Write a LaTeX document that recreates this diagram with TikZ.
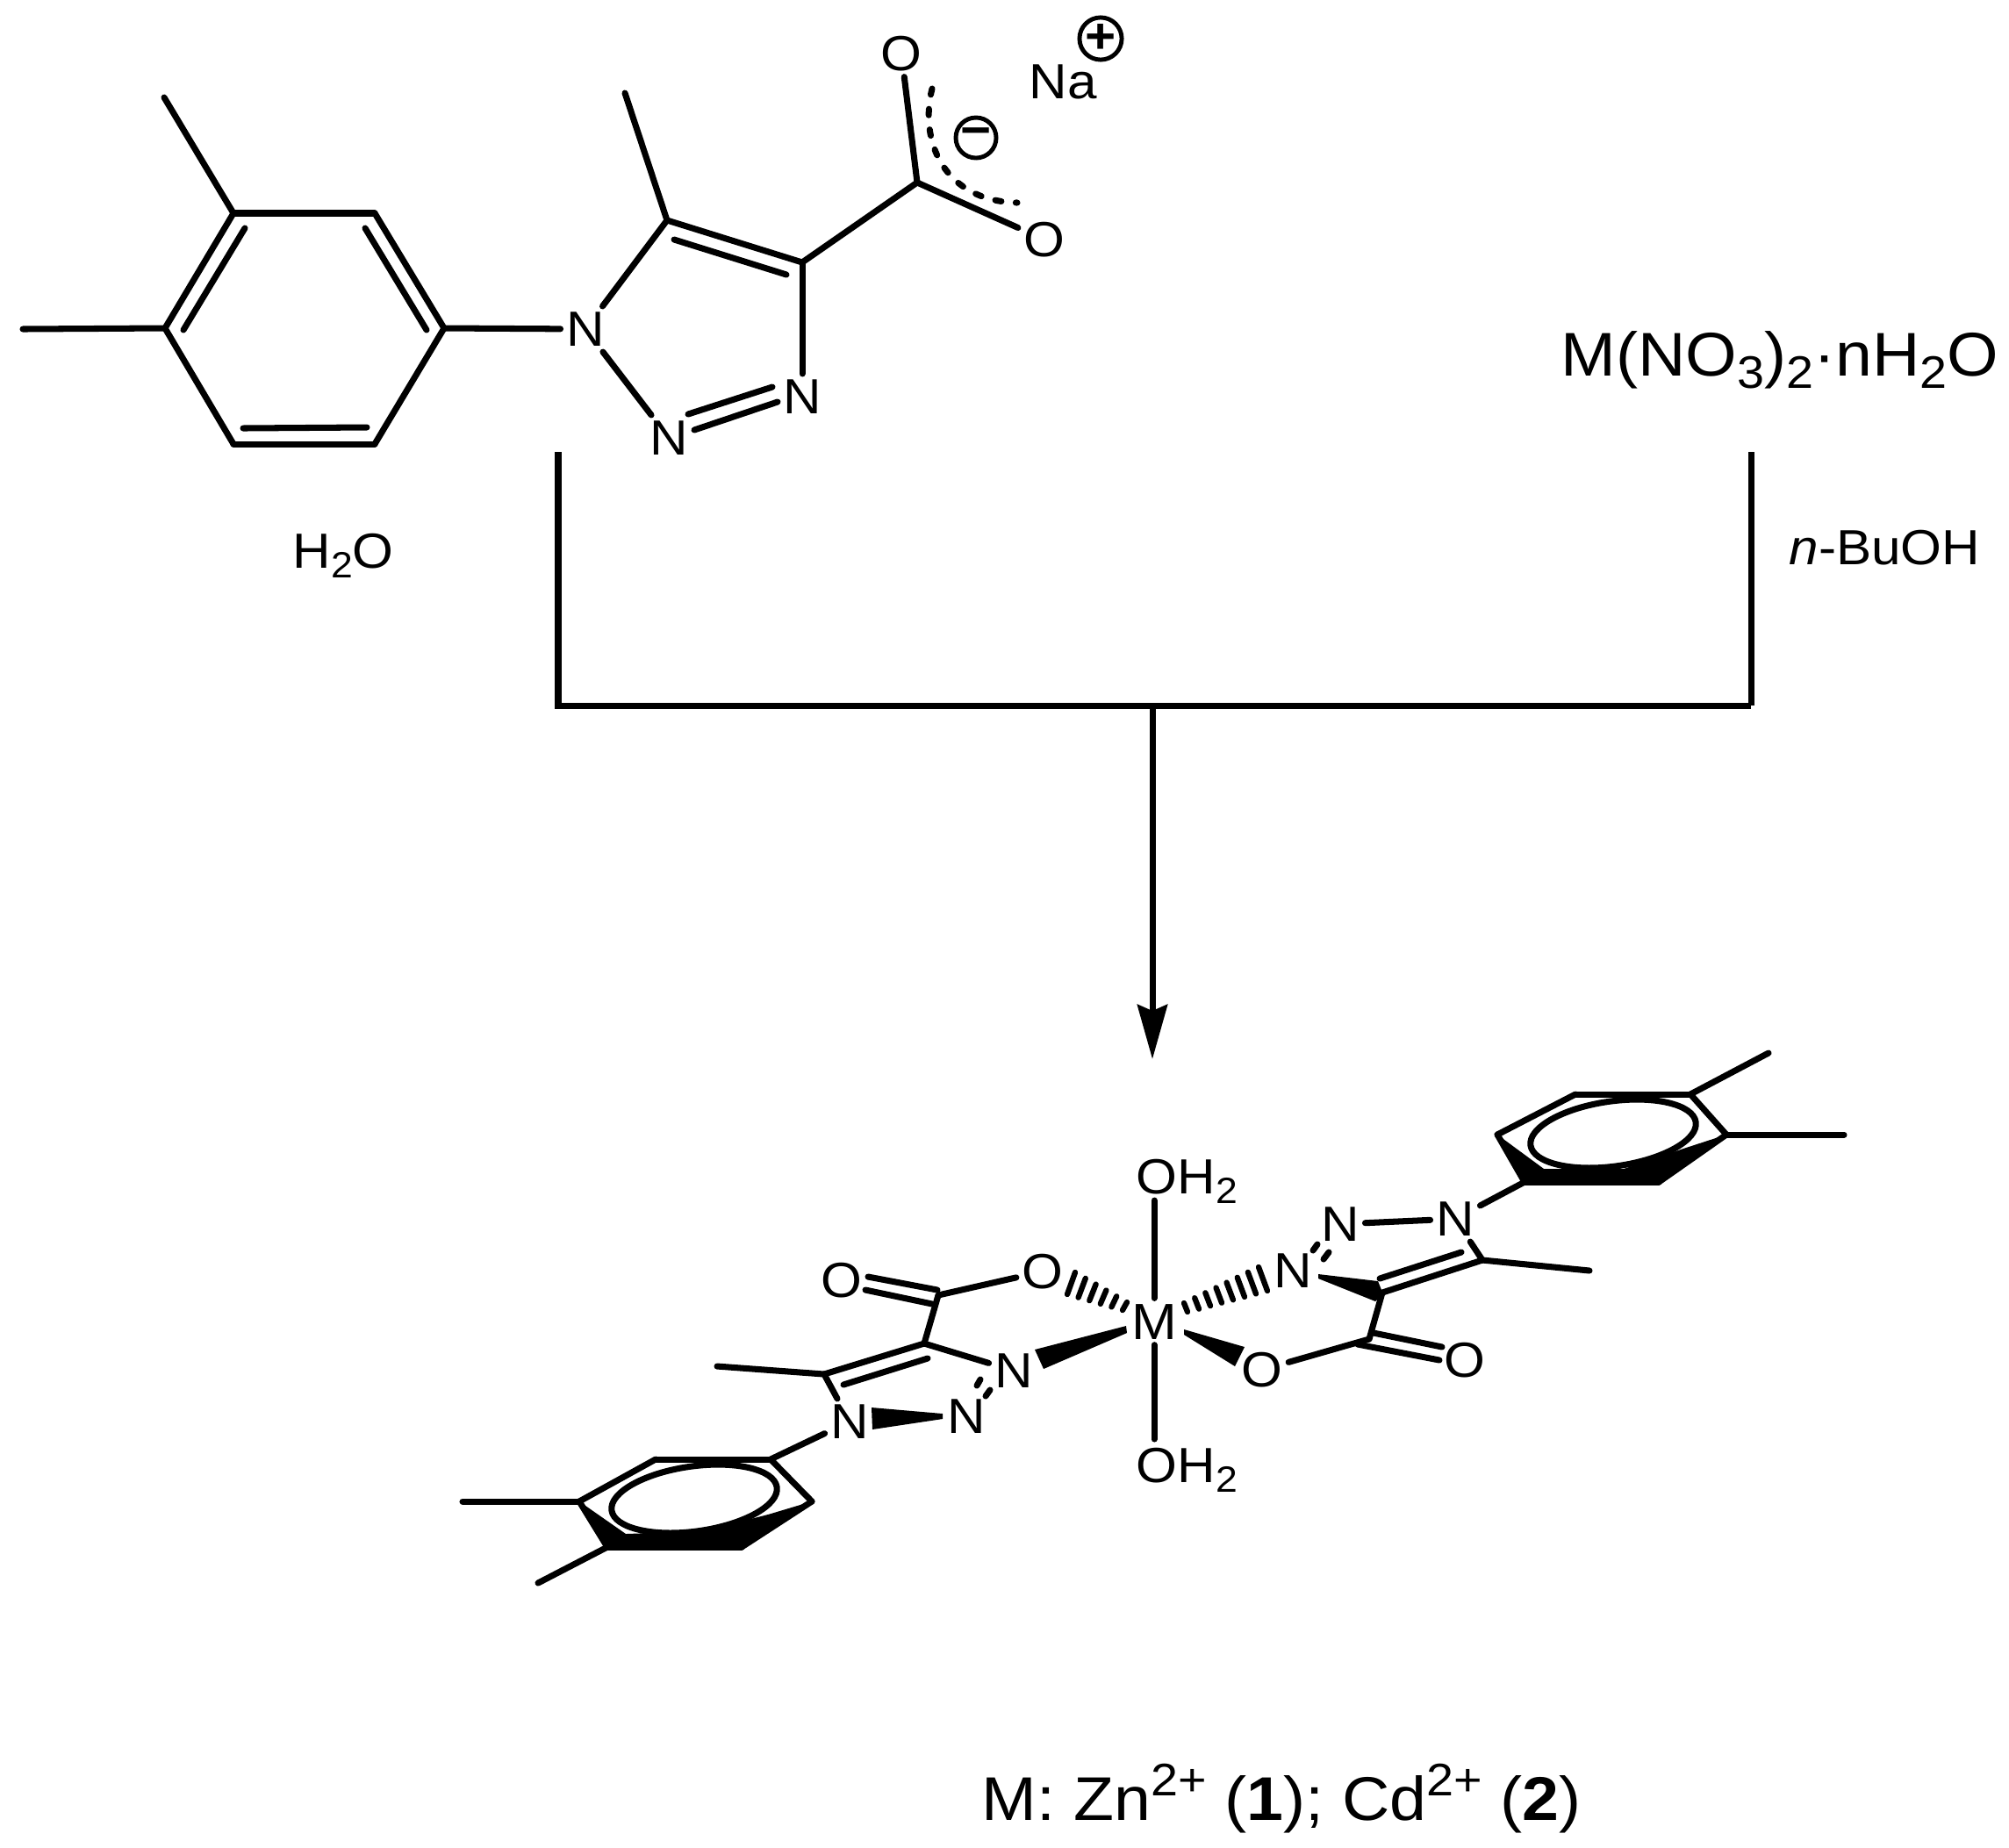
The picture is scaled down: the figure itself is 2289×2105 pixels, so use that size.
\documentclass[tikz,border=0pt]{standalone}
\usepackage{fontspec}
\setmainfont[FakeStretch=1.07]{Liberation Sans}
\usetikzlibrary{arrows.meta,calc,shapes.geometric}
\newcommand{\chemsub}[1]{\raisebox{-.2em}{\scalebox{.74}{#1}}}
\newcommand{\chemsup}[1]{\raisebox{.39em}{\scalebox{.74}{#1}}}
\newcommand{\hashbond}[5]{\foreach \t in {#5} \draw[hash] ($(#1)!\t!(#3)$) -- ($(#2)!\t!(#4)$);}
\tikzset{
  atom/.style={font=\fontsize{16}{18}\selectfont,inner sep=0.06cm},
  bigtext/.style={font=\fontsize{20}{24}\selectfont,inner sep=0pt,anchor=base west},
  soltext/.style={font=\fontsize{16}{18}\selectfont,inner sep=0pt,anchor=base west},
  bond/.style={line width=2pt,line cap=round,line join=miter},
  hash/.style={line width=1.8pt,line cap=round},
  wedge/.style={fill=black,draw=none},
  charge/.style={circle,draw,line width=1.4pt,minimum size=0.46cm,inner sep=0pt,font=\bfseries\fontsize{16}{16}\selectfont},
  aromatic/.style={ellipse,draw,fill=white,line width=2pt,minimum width=1.9cm,minimum height=0.74cm,inner sep=0pt,rotate=8}
}
\begin{document}
\begin{tikzpicture}[x=0.01cm,y=-0.01cm]
\useasboundingbox (0,0) rectangle (2289,2105);
% ligand salt
\foreach \n/\x/\y in {r_1/266/243,r_2/427/243,r_3/506/374,r_4/427/506,r_5/266/506,r_6/188/374,
  me_1/187/111,me_2/26/375,me_3/712/106,
  C_5/760/251,C_4/914/299,C_c/1045/208,
  i_1/279/260,i_2/209/376,i_3/416/260,i_4/486/376,i_5/277/488,i_6/418/487,i_7/768/273,i_8/896/313,
  nn_1/784/472,nn_2/880/441,nn_3/791/490,nn_4/886/458,
  dot_a/1062/101,dot_b/1159/231}
  {\coordinate (\n) at (\x,\y);}
\node[atom] (N_1) at (667,375) {N};
\node[atom] (N_2) at (762,499) {N};
\node[atom] (N_3) at (914,452) {N};
\node[atom] (O_a) at (1027,61) {O};
\node[atom] (O_b) at (1190,273) {O};
\node[soltext] (Na) at (1172,112) {Na};
\node[charge] (plus) at (1254,44) {+};
\node[charge] (minus) at (1112,157) {−};
\path[bond]
  (r_1) edge (r_2) (r_2) edge (r_3) (r_3) edge (r_4) (r_4) edge (r_5) (r_5) edge (r_6) (r_6) edge (r_1)
  (i_1) edge (i_2) (i_3) edge (i_4) (i_5) edge (i_6)
  (r_1) edge (me_1) (r_6) edge (me_2)
  (r_3) edge (N_1) (N_1) edge (C_5) (N_1) edge (N_2) (C_5) edge (C_4) (i_7) edge (i_8)
  (C_5) edge (me_3) (C_4) edge (N_3) (nn_1) edge (nn_2) (nn_3) edge (nn_4)
  (C_4) edge (C_c) (C_c) edge (O_a) (C_c) edge (O_b);
\draw[bond,dash pattern=on 0.07cm off 0.165cm] (dot_a) .. controls (1047,160) and (1075,229) .. (dot_b);
% reagent, solvents and bracket
\node[bigtext] (salt) at (1778,428) {M(NO\chemsub{3})\chemsub{2}·nH\chemsub{2}O};
\node[soltext] (water) at (333,647) {H\chemsub{2}O};
\node[soltext] (BuOH) at (2038,643) {\textit{n}-BuOH};
\coordinate (b_l) at (636,515);
\coordinate (b_r) at (1995,515);
\coordinate (c_l) at (632,804);
\coordinate (c_r) at (1995,804);
\coordinate (c_m) at (1313,804);
\coordinate (tip) at (1313,1207);
\draw[line width=2pt] (b_l) -- (c_l -| b_l);
\draw[line width=2pt] (b_r) -- (c_r);
\draw[line width=2pt] (c_l) -- (c_r);
\draw[line width=2pt,-{Stealth[length=0.62cm,width=0.34cm,inset=0.07cm]}] (c_m) -- (tip);
% complex: metal centre
\node[atom,font=\fontsize{16.5}{18}\selectfont] (M) at (1315,1506) {M};
\node[soltext,inner sep=0pt] (OH_t) at (1294,1360) {OH\chemsub{2}};
\node[soltext,inner sep=0pt] (OH_b) at (1294,1689) {OH\chemsub{2}};
\coordinate (t_e) at (1315,1368);
\coordinate (b_e) at (1315,1640);
\draw[bond] (M) -- (t_e);
\draw[bond] (M) -- (b_e);
% left ligand
\foreach \n/\x/\y in {p_1/660/1711,p_2/747/1663,p_3/878/1663,p_4/925/1711,p_5/845/1763,p_6/692/1763,
  pm_1/527/1711,pm_2/613/1804,pm_3/817/1557,
  L_5/939/1566,L_4/1053/1531,L_c/1069/1476,
  li_1/1057/1548,li_2/961/1578,lo_1/989/1455,lo_2/1068/1470,lo_3/986/1470,lo_4/1062/1486,
  lt_1/1113/1579,lt_2/1117/1572,lt_3/1123/1591,lt_4/1128/1584,
  lh_1/1225/1450,lh_2/1216/1475,lh_3/1284/1484,lh_4/1279/1493}
  {\coordinate (\n) at (\x,\y);}
\node[atom] (N_a) at (968,1620) {N};
\node[atom] (N_b) at (1101,1614) {N};
\node[atom] (N_c) at (1155,1562) {N};
\node[atom] (O_c) at (1188,1449) {O};
\node[atom] (O_d) at (959,1459) {O};
\fill[wedge] (p_1) -- (p_6) -- (p_5) -- (p_4) -- (875,1726) -- (800,1745) -- (713,1748) -- cycle;
\path[bond]
  (p_1) edge (p_2) (p_2) edge (p_3) (p_3) edge (p_4) (p_4) edge (p_5) (p_5) edge (p_6) (p_6) edge (p_1)
  (p_1) edge (pm_1) (p_6) edge (pm_2) (p_3) edge (N_a)
  (N_a) edge (L_5) (L_5) edge (pm_3) (L_5) edge (L_4) (li_1) edge (li_2)
  (L_4) edge (N_c) (L_4) edge (L_c) (L_c) edge (O_c) (lo_1) edge (lo_2) (lo_3) edge (lo_4)
  (lt_1) edge (lt_2) (lt_3) edge (lt_4);
\node[aromatic] (ring_p) at (791,1708) {};
\fill[wedge] (993,1604) -- (994,1629) -- (1074,1617) -- (1074,1611) -- cycle;
\fill[wedge] (1179,1538) -- (1189,1560) -- (1284,1519) -- (1283,1511) -- cycle;
\hashbond{lh_1}{lh_2}{lh_3}{lh_4}{0,0.2,0.4,0.6,0.8,1}
% right ligand
\foreach \n/\x/\y in {q_1/1706/1293,q_2/1795/1247,q_3/1926/1247,q_4/1967/1293,q_5/1890/1347,q_6/1737/1347,
  qm_1/2015/1200,qm_2/2101/1293,qm_3/1811/1448,
  R_5/1689/1436,R_4/1575/1473,R_c/1560/1526,
  ri_1/1665/1427,ri_2/1572/1457,ro_1/1565/1519,ro_2/1643/1535,ro_3/1547/1532,ro_4/1640/1550,
  rt_1/1496/1425,rt_2/1501/1418,rt_3/1508/1435,rt_4/1514/1427,
  rh_1/1434/1444,rh_2/1444/1471,rh_3/1349/1485,rh_4/1353/1495}
  {\coordinate (\n) at (\x,\y);}
\node[atom] (N_d) at (1658,1389) {N};
\node[atom] (N_e) at (1527,1395) {N};
\node[atom] (N_f) at (1473,1448) {N};
\node[atom] (O_e) at (1438,1561) {O};
\node[atom] (O_f) at (1669,1550) {O};
\fill[wedge] (q_1) -- (q_6) -- (q_5) -- (q_4) -- (1921,1308) -- (1850,1332) -- (1759,1332) -- cycle;
\path[bond]
  (q_1) edge (q_2) (q_2) edge (q_3) (q_3) edge (q_4) (q_4) edge (q_5) (q_5) edge (q_6) (q_6) edge (q_1)
  (q_3) edge (qm_1) (q_4) edge (qm_2) (q_6) edge (N_d)
  (N_d) edge (N_e) (N_d) edge (R_5) (R_5) edge (qm_3) (R_5) edge (R_4) (ri_1) edge (ri_2)
  (R_4) edge (R_c) (R_c) edge (O_e) (ro_1) edge (ro_2) (ro_3) edge (ro_4)
  (rt_1) edge (rt_2) (rt_3) edge (rt_4);
\node[aromatic] (ring_q) at (1838,1292) {};
\fill[wedge] (1502,1452) -- (1502,1457) -- (1567,1483) -- (1576,1475) -- (1570,1460) -- cycle;
\fill[wedge] (1349,1515) -- (1349,1521) -- (1407,1557) -- (1418,1535) -- cycle;
\hashbond{rh_1}{rh_2}{rh_3}{rh_4}{0,0.143,0.286,0.429,0.571,0.714,0.857,1}
% caption
\node[bigtext] (caption) at (1118,2074) {M: Zn\chemsup{2+} (\textbf{1}); Cd\chemsup{2+} (\textbf{2})};
\end{tikzpicture}
\end{document}
